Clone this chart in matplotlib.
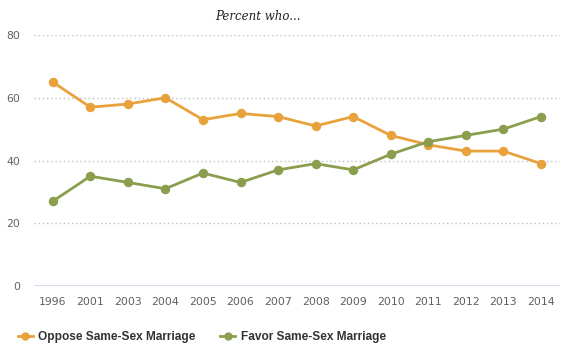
import numpy as np
import matplotlib.pyplot as plt
from matplotlib.lines import Line2D

years = ['1996', '2001', '2003', '2004', '2005', '2006', '2007',
         '2008', '2009', '2010', '2011', '2012', '2013', '2014']
oppose = [65, 57, 58, 60, 53, 55, 54, 51, 54, 48, 45, 43, 43, 39]
favor = [27, 35, 33, 31, 36, 33, 37, 39, 37, 42, 46, 48, 50, 54]
y_ticks = [0, 20, 40, 60, 80]

orange = '#E9A23B'
green = '#8A9E4E'

fig = plt.figure(figsize=(5.7, 3.61), dpi=100)
ax = fig.add_axes([0.0596, 0.2078, 0.9224, 0.6952])

x = np.arange(len(years))
ax.plot(x, oppose, color=orange, lw=2, marker='o', ms=5.8, clip_on=False, zorder=3)
ax.plot(x, favor, color=green, lw=2, marker='o', ms=5.8, clip_on=False, zorder=3)

ax.set_xlim(-0.5, len(years) - 0.5)
ax.set_ylim(0, 80)
ax.set_yticks(y_ticks)
ax.set_xticks(x)
ax.set_xticklabels(years)

# dotted grid lines, solid base line
for t in y_ticks[1:]:
    ax.axhline(t, color='#bdbdbd', lw=1, ls=(0, (1, 2)), zorder=1)
ax.axhline(0, color='#ccd6eb', lw=1.2, zorder=1)

for s in ax.spines.values():
    s.set_visible(False)
ax.tick_params(length=0, colors='#606060', labelsize=7.8)
ax.tick_params(axis='y', pad=10)
ax.tick_params(axis='x', pad=8)

fig.text(0.452, 0.955, 'Percent who...', ha='center', va='center',
         fontsize=8.5, style='italic', family='DejaVu Serif', color='#222222')

handles = [Line2D([], [], color=orange, lw=2, marker='o', ms=5),
           Line2D([], [], color=green, lw=2, marker='o', ms=5)]
fig.legend(handles, ['Oppose Same-Sex Marriage', 'Favor Same-Sex Marriage'],
           loc='center left', bbox_to_anchor=(0.012, 0.067), ncol=2, frameon=False,
           prop={'weight': 'bold', 'size': 8.6, 'family': 'Liberation Sans'},
           labelcolor='#333333',
           handlelength=1.3, handletextpad=0.45, columnspacing=2.0)

fig.savefig('out.png', dpi=100, facecolor='white')
